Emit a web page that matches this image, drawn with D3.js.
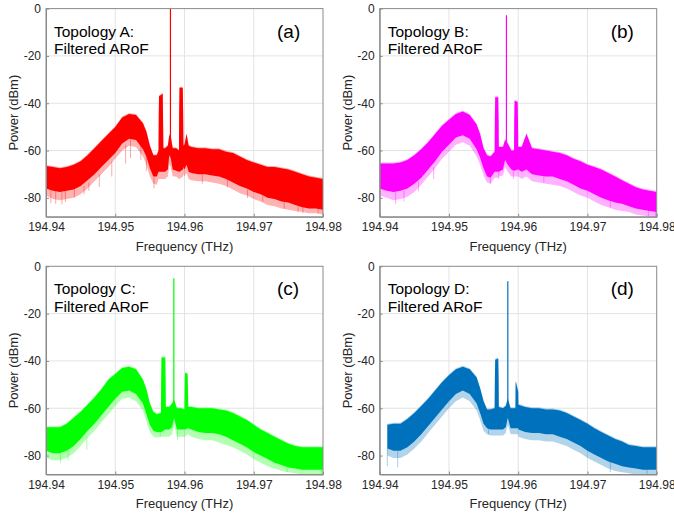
<!DOCTYPE html>
<html>
<head>
<meta charset="utf-8">
<script src="https://cdn.jsdelivr.net/npm/d3@7"></script>
<style>
  body { margin: 0; background: #fff; }
  svg { display: block; font-family: "Liberation Sans", Arial, sans-serif; }
</style>
</head>
<body>
<svg id="chart" width="674" height="516"></svg>
<script>
// ---- data (THz, dBm) ----
// hi / lo = dense part of the noise band, floor = faint lower fringe
const freqA = [194.940,194.941,194.942,194.943,194.944,194.945,194.946,194.947,194.948,194.949,194.950,194.951,194.952,194.953,194.954,194.9545,194.955,194.9555,194.956,
  194.95625,194.95628,194.95632,194.95686,194.9569,194.95695,
  194.9572,194.9576,194.9578,194.958,194.9583,194.9588,
  194.9592,194.95923,194.95928,194.95975,194.9598,194.95985,
  194.960,194.9603,194.9606,194.961,194.962,194.963,194.964,194.965,194.966,194.967,194.968,194.969,194.970,194.971,194.972,194.973,194.974,194.975,194.976,194.977,194.978,194.979,194.980];
const hiA = [-66.5,-67,-67.5,-67,-66,-64.5,-62,-59,-56,-53,-50,-46,-44.5,-45,-48.5,-52,-58,-62,-62,
  -60,-46,-37,-36,-46,-59,
  -59,-58,-53.5,-54,-59,-59,
  -60,-43,-33.5,-33.5,-43,-58,
  -57.5,-53,-58,-58.5,-59,-59,-59.5,-59.5,-60.5,-61,-62.5,-64,-65,-66,-67,-67,-67.5,-68,-69,-70,-71,-71.5,-72];
const loA = [-76,-77,-77.5,-77,-76.5,-75,-72.5,-70,-67,-64,-61,-57,-55,-55.5,-59.5,-62.5,-67.5,-71,-71,
  -69,-69,-69,-69,-69,-69,
  -69,-68,-62,-63,-68,-68.5,
  -69,-69,-69,-68,-68,-67,
  -68,-66,-69,-69.5,-70,-70,-70.5,-71,-72,-73.5,-75,-76,-77.5,-78.5,-80,-80.5,-81.5,-82,-83,-84,-84.5,-84.5,-85];
const floorA = [-79,-80.5,-81,-80.5,-80,-78.5,-76,-73,-70,-67,-63.5,-60,-58,-58.5,-62.5,-66,-71,-74,-74.5,
  -72,-72,-72,-72,-72,-72,
  -72,-71,-66,-67,-71,-71,
  -72,-72,-72,-71,-71,-70,
  -71,-69.5,-72,-72.5,-73,-73,-73.5,-74,-75,-76.5,-78,-79,-80.5,-81.5,-83,-83.5,-84.5,-85,-85.5,-86,-86.5,-86.5,-87];

const freqB = [194.940,194.941,194.942,194.943,194.944,194.945,194.946,194.947,194.948,194.949,194.950,194.951,194.952,194.953,194.954,194.9545,194.955,194.9555,194.956,
  194.9566,194.95663,194.95668,194.95712,194.95717,194.9572,
  194.9578,194.9581,194.9585,194.959,
  194.9594,194.95943,194.95948,194.95992,194.95997,194.9600,
  194.9605,194.9612,194.962,194.963,194.964,194.965,194.966,194.967,194.968,194.969,194.970,194.971,194.972,194.973,194.974,194.975,194.976,194.977,194.978,194.979,194.980];
const hiB = [-65.5,-65.5,-65.5,-65,-64,-62,-59.5,-56.5,-53,-49.5,-47,-44.5,-43.5,-45,-49,-53,-59,-62,-62.5,
  -60.5,-47,-37.5,-37.5,-47,-58.5,
  -58.5,-55.5,-57,-60,
  -60,-47.5,-39,-39.5,-47.5,-58.5,
  -58.5,-53,-59,-59.5,-60,-60.5,-61,-62,-63.5,-64.5,-66,-67,-68,-69.5,-71,-72.5,-74,-75.5,-76.5,-77,-77.5];
const loB = [-76,-77,-77.5,-77,-76,-74,-71.5,-68,-64.5,-60.5,-57.5,-54.5,-53.5,-55,-59.5,-63,-67.5,-71,-71.5,
  -69,-69,-69,-69,-69,-69,
  -68,-64,-66,-68,
  -68.5,-68.5,-68.5,-68,-68,-68,
  -69,-68,-70,-70.5,-71,-71,-72,-73,-74.5,-76,-77,-78.5,-80,-81,-82,-82.5,-83.5,-84.5,-85,-85.5,-86];
const floorB = [-79,-80,-81,-80.5,-79.5,-77.5,-74.5,-71,-67.5,-63.5,-60.5,-57.5,-56.5,-58,-62.5,-66,-70.5,-73.5,-74,
  -71.5,-71.5,-71.5,-71.5,-71.5,-71,
  -70.5,-67,-69,-71,
  -71,-71,-71,-71,-71,-71,
  -72,-71,-73,-73.5,-74,-74.5,-75,-76,-77.5,-79,-80,-81.5,-83,-84,-85,-85.5,-86,-87,-87.5,-88,-88];

const freqC = [194.940,194.941,194.942,194.943,194.944,194.945,194.946,194.947,194.948,194.949,194.950,194.951,194.952,194.953,194.954,194.9545,194.955,194.9555,194.956,
  194.9566,194.95663,194.95668,194.95722,194.95727,194.9573,
  194.9578,194.9582,194.9585,194.9589,194.9595,
  194.960,194.96003,194.96008,194.96045,194.9605,194.96055,
  194.961,194.962,194.963,194.964,194.965,194.966,194.967,194.968,194.969,194.970,194.971,194.972,194.973,194.974,194.975,194.976,194.977,194.978,194.979,194.980];
const hiC = [-68,-68,-68,-66.5,-64,-61.5,-58.5,-55.5,-52,-48,-45.5,-43,-42.5,-43.5,-48,-52,-58,-61.5,-62.5,
  -62,-49.5,-38.5,-38.5,-49,-59.5,
  -59.5,-58,-56.5,-60,-60,
  -60.5,-51.5,-45,-45.5,-52,-59.5,
  -59.5,-60,-60,-60,-60.5,-61,-62,-63.5,-65,-67,-69,-70.5,-72,-73.5,-75,-76,-76.5,-76.5,-76.5,-76.5];
const loC = [-78,-79,-79,-78,-76,-73,-69.5,-66.5,-63,-59.5,-56,-53,-52.5,-54,-58,-62.5,-67,-69.5,-70,
  -70,-70,-70,-69,-69,-69,
  -69,-68,-64,-69,-69,
  -69,-69,-69,-68.5,-68.5,-68.5,
  -69,-70,-70.5,-70.5,-71,-72,-73.5,-75,-76.5,-78.5,-80,-81.5,-83,-84,-85,-85.5,-86,-86,-86,-86];
const floorC = [-81,-82,-82,-81,-79,-76,-72.5,-69.5,-66,-62.5,-59,-56,-55.5,-57,-61,-65.5,-70,-72,-72.5,
  -72,-72,-72,-72,-72,-72,
  -72,-71,-67,-72,-72,
  -72,-72,-72,-71,-71,-71,
  -72,-73,-73.5,-73.5,-74.5,-75.5,-76.5,-78,-79.5,-81.5,-83,-84.5,-85.5,-86.5,-87,-87.5,-88,-88,-88,-88];

const freqD = [194.9411,194.942,194.943,194.944,194.945,194.946,194.947,194.948,194.949,194.950,194.951,194.952,194.953,194.954,194.9545,194.955,194.9555,194.956,
  194.9566,194.95663,194.95668,194.95712,194.95717,194.9572,
  194.9578,194.9582,194.9585,194.9589,
  194.9596,194.95963,194.95968,194.960,194.96003,
  194.961,194.962,194.963,194.964,194.965,194.966,194.967,194.968,194.969,194.970,194.971,194.972,194.973,194.974,194.975,194.976,194.977,194.978,194.979,194.980];
const hiD = [-67,-66.5,-66.5,-64.5,-62,-59,-56,-52.5,-49,-46,-43.5,-42.5,-43.5,-47,-51.5,-57,-60.5,-60.5,
  -60,-48.5,-39.5,-39,-48,-59.5,
  -60,-59,-56,-60,
  -60,-49,-49,-53,-58.5,
  -59.5,-60,-60,-60.5,-60.5,-61,-62,-63.5,-65,-66.5,-68.5,-70,-71.5,-73,-74,-75.5,-76,-76.5,-76.5,-76.5];
const loD = [-77,-78,-78,-76.5,-74,-71,-67.5,-64,-60.5,-57,-54,-52.5,-54,-58,-62,-66.5,-68.5,-69,
  -69,-69,-69,-69,-69,-69,
  -69,-68,-64,-68.5,
  -68.5,-68.5,-68.5,-68.5,-69,
  -70,-70.5,-70.5,-71,-71,-72,-73,-74.5,-76,-78,-79.5,-81,-82.5,-83.5,-84.5,-85,-85.5,-86,-86,-86];
const floorD = [-80,-81,-81,-79.5,-77,-74,-70.5,-67,-63.5,-60,-57,-55.5,-57,-61,-65,-69.5,-71,-71.5,
  -71.5,-71.5,-71.5,-71.5,-71.5,-71.5,
  -71.5,-70.5,-67,-71,
  -71,-71,-71,-71,-72,
  -73,-73.5,-73.5,-74,-74,-75,-76,-77.5,-79,-81,-82.5,-84,-85.5,-86.5,-87,-87.5,-88,-88,-88,-88];

// deepest single noise spikes: [freq, from, to]
const spikesA = [[194.9407,-76,-82.2],[194.9414,-77,-82.5],[194.9423,-77.5,-82.8],[194.9428,-77,-81.8],[194.9441,-76.5,-79.8],[194.9455,-75,-78.5],[194.9462,-73.5,-77],[194.9477,-70,-75.4],[194.9495,-64.5,-71],[194.9515,-57.5,-65.5],[194.9522,-55,-63.2],[194.9537,-57,-64],[194.9545,-62,-68.5],[194.9556,-71,-76],[194.96257,-70,-74],[194.9662,-72,-75.5],[194.9691,-76.5,-80],[194.9713,-79,-81.5],[194.9744,-81.5,-84.5],[194.9764,-83.5,-86],[194.9771,-84,-86.5],[194.9793,-84.5,-86.5],[194.9800,-85,-88]];
const spikesB = [[194.9423,-77.5,-82.7],[194.9435,-77,-81.5],[194.9456,-73,-77],[194.9478,-67,-72],[194.9560,-71.5,-74],[194.9572,-68,-72],[194.9593,-68.5,-72],[194.9637,-70.5,-73.5],[194.9733,-81,-84],[194.9788,-85,-88],[194.9798,-86,-88]];
const spikesC = [[194.9421,-79,-83],[194.9432,-78,-82],[194.9459,-72,-77.5],[194.9565,-70,-72],[194.9590,-69,-73.5],[194.9748,-84,-87],[194.9798,-86,-88]];
const spikesD = [[194.9411,-77,-84.5],[194.9426,-78,-85],[194.9557,-68.5,-71],[194.9733,-81,-87],[194.9786,-85.5,-88]];

// carrier lines (narrow peak at centre)
const carrierFreq = [194.95797, 194.9583, 194.95846, 194.9585];
const carrierPeak = [1, -2.8, -5, -6.3];
const carrierBase = [-60, -58, -58, -58];

const topologies = ["Topology A:", "Topology B:", "Topology C:", "Topology D:"];
const tags = ["(a)", "(b)", "(c)", "(d)"];
const xTicks = [194.94, 194.95, 194.96, 194.97, 194.98];
const yTicks = [-80, -60, -40, -20, 0];

const panels = [
  {freq: freqA, hi: hiA, lo: loA, fl: floorA, spikes: spikesA, color: "#ff0000", left: 46, top: 8.6},
  {freq: freqB, hi: hiB, lo: loB, fl: floorB, spikes: spikesB, color: "#ff00ff", left: 379.7, top: 8.6},
  {freq: freqC, hi: hiC, lo: loC, fl: floorC, spikes: spikesC, color: "#00ff00", left: 46, top: 266.3},
  {freq: freqD, hi: hiD, lo: loD, fl: floorD, spikes: spikesD, color: "#0072bd", left: 379.7, top: 266.3}
];

const width = 277, height = 208.2;
const svg = d3.select("#chart");
const axisColor = "#8a8a8a", textColor = "#262626";

panels.forEach((p, k) => {
  const g = svg.append("g").attr("transform", `translate(${p.left}, ${p.top})`);

  const x = d3.scaleLinear().domain([194.94, 194.98]).range([0, width]);
  const y = d3.scaleLinear().domain([-88, 0]).range([height, 0]);

  g.append("clipPath").attr("id", "clip" + k)
    .append("rect").attr("width", width).attr("height", height);

  // grid
  g.selectAll(".gx").data(xTicks.slice(1, -1)).join("line")
    .attr("x1", d => x(d)).attr("x2", d => x(d))
    .attr("y1", 0).attr("y2", height)
    .attr("stroke", "#e3e3e3").attr("stroke-width", 1);
  g.selectAll(".gy").data(yTicks.slice(1, -1)).join("line")
    .attr("y1", d => y(d)).attr("y2", d => y(d))
    .attr("x1", 0).attr("x2", width)
    .attr("stroke", "#e3e3e3").attr("stroke-width", 1);

  const plot = g.append("g").attr("clip-path", `url(#clip${k})`);
  const idx = d3.range(p.freq.length);

  // faint fringe around the dense band
  plot.append("path")
    .datum(idx)
    .attr("d", d3.area().x(i => x(p.freq[i])).y0(i => y(p.fl[i])).y1(i => y(p.hi[i]) - 1))
    .attr("fill", p.color).attr("fill-opacity", 0.3);

  // single deep spikes
  plot.selectAll(".spike").data(p.spikes).join("line")
    .attr("x1", d => x(d[0])).attr("x2", d => x(d[0]))
    .attr("y1", d => y(d[1])).attr("y2", d => y(d[2]))
    .attr("stroke", p.color).attr("stroke-opacity", 0.35).attr("stroke-width", 1);

  // dense noise band
  plot.append("path")
    .datum(idx)
    .attr("d", d3.area().x(i => x(p.freq[i])).y0(i => y(p.lo[i])).y1(i => y(p.hi[i])))
    .attr("fill", p.color);

  // carrier
  plot.append("line")
    .attr("x1", x(carrierFreq[k])).attr("x2", x(carrierFreq[k]))
    .attr("y1", y(carrierBase[k])).attr("y2", y(carrierPeak[k]))
    .attr("stroke", p.color).attr("stroke-width", 1.2);

  // axes
  const xa = g.append("g").attr("transform", `translate(0, ${height})`)
    .call(d3.axisBottom(x).tickValues(xTicks).tickFormat(d3.format(".2f"))
      .tickSizeInner(-3).tickSizeOuter(0).tickPadding(6));
  const ya = g.append("g")
    .call(d3.axisLeft(y).tickValues(yTicks).tickFormat(d => d)
      .tickSizeInner(-3).tickSizeOuter(0).tickPadding(5));
  [xa, ya].forEach(a => {
    a.select(".domain").attr("stroke", axisColor);
    a.selectAll(".tick line").attr("stroke", axisColor);
    a.selectAll("text").attr("fill", textColor).style("font-size", "12px")
      .style("font-family", "'Liberation Sans', Arial, sans-serif");
  });
  g.append("rect").attr("width", width).attr("height", height)
    .attr("fill", "none").attr("stroke", axisColor).attr("stroke-width", 1);

  // axis titles
  g.append("text").attr("x", width / 2).attr("y", height + 34)
    .attr("text-anchor", "middle").attr("fill", textColor)
    .style("font-size", "13px").text("Frequency (THz)");
  g.append("text")
    .attr("transform", `translate(-28, ${height / 2}) rotate(-90)`)
    .attr("text-anchor", "middle").attr("fill", textColor)
    .style("font-size", "13px").text("Power (dBm)");

  // annotations
  g.append("text").attr("x", 8).attr("y", 28).attr("fill", "#000")
    .style("font-size", "15.5px").text(topologies[k]);
  g.append("text").attr("x", 8).attr("y", 45.7).attr("fill", "#000")
    .style("font-size", "15.5px").text("Filtered ARoF");
  g.append("text").attr("x", 231).attr("y", 29).attr("fill", "#000")
    .style("font-size", "19px").text(tags[k]);
});
</script>
</body>
</html>
